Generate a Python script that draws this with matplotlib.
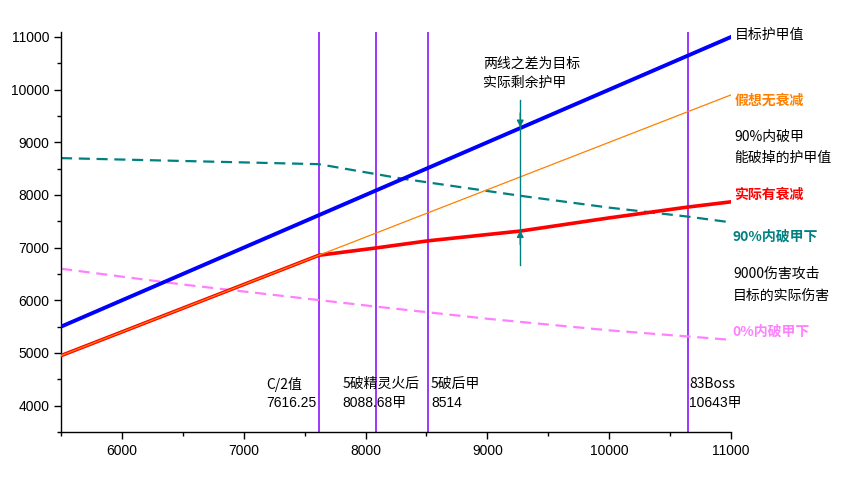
import matplotlib
matplotlib.use("Agg")
import matplotlib.pyplot as plt
from matplotlib.ticker import MultipleLocator

plt.rcParams['font.family'] = ['Liberation Sans', 'Noto Sans CJK SC', 'DejaVu Sans']

# ---- data ----
target_x = [5500, 11000]
target_y = [5500, 11000]

ideal_x = [5500, 11000]
ideal_y = [4950, 9900]

actual_x = [5500, 7616.25, 8088.68, 8514, 9270, 10000, 10643, 11000]
actual_y = [4950, 6855, 6995, 7130, 7315, 7565, 7770, 7870]

pen90_x = [5500, 7616.25, 8300, 9270, 10000, 10643, 11000]
pen90_y = [8700, 8585, 8310, 7985, 7760, 7590, 7480]

pen0_x = [5500, 6500, 7616.25, 8088.68, 9000, 10000, 11000]
pen0_y = [6600, 6300, 6005, 5880, 5650, 5430, 5250]

vlines = [7616.25, 8088.68, 8514, 10643]
vline_labels = [("C/2值", "7616.25"), ("5破精灵火后", "8088.68甲"),
                ("5破后甲", "8514"), ("83Boss", "10643甲")]
vlabel_x = [7185, 7808, 8538, 10656]

arrow_x = 9270
arrow_span = [6670, 9800]
arrow_tips = [9285, 7330]
arrow_tails = [9560, 7060]

# ---- figure ----
fig = plt.figure(figsize=(8.49, 4.82), dpi=100)
ax = fig.add_axes([61 / 849, 50 / 482, 670 / 849, 400.3 / 482])
ax.set_xlim(5500, 11000)
ax.set_ylim(3500, 11100)

for v in vlines:
    ax.axvline(v, color='#8000FF', lw=1.1, zorder=1)

ax.plot(target_x, target_y, color='#0000FF', lw=2.8, zorder=4)
ax.plot(actual_x, actual_y, color='#FF0000', lw=2.6, zorder=3)
ax.plot(ideal_x, ideal_y, color='#FF8000', lw=0.9, zorder=3.5)
ax.plot(pen90_x, pen90_y, color='#008080', lw=1.6, dashes=(5, 3), zorder=2)
ax.plot(pen0_x, pen0_y, color='#FF80FF', lw=1.6, dashes=(5, 3), zorder=2)

# arrow
ax.plot([arrow_x, arrow_x], arrow_span, color='#008080', lw=1.0, zorder=5)
for tip, tail in zip(arrow_tips, arrow_tails):
    ax.annotate('', xy=(arrow_x, tip), xytext=(arrow_x, tail),
                arrowprops=dict(arrowstyle='-|>', color='#008080', lw=1.0,
                                mutation_scale=10, shrinkA=0, shrinkB=0),
                zorder=6)

# axes styling
for s in ['top', 'right']:
    ax.spines[s].set_visible(False)
ax.spines['left'].set_linewidth(1.0)
ax.spines['bottom'].set_linewidth(1.0)
ax.xaxis.set_major_locator(MultipleLocator(1000))
ax.xaxis.set_minor_locator(MultipleLocator(500))
ax.yaxis.set_major_locator(MultipleLocator(1000))
ax.yaxis.set_minor_locator(MultipleLocator(500))
ax.tick_params(axis='both', which='major', length=5, width=1, labelsize=10, direction='out')
ax.tick_params(axis='both', which='minor', length=3, width=1, direction='out')
ax.set_yticks([4000, 5000, 6000, 7000, 8000, 9000, 10000, 11000])
ax.set_xticks([6000, 7000, 8000, 9000, 10000, 11000])

cjk = ['Noto Sans CJK SC', 'DejaVu Sans']
fs = 10

def txt(x, y, s, color='black', bold=False, ha='left', family=cjk):
    ax.text(x, y, s, color=color, fontsize=fs, family=family, ha=ha, va='center',
            fontweight='bold' if bold else 'normal', clip_on=False)

# right side labels
txt(11029, 11037, "目标护甲值")
txt(11029, 9784, "假想无衰减", color='#FF8000', bold=True)
txt(11029, 9100, "90%内破甲")
txt(11029, 8701, "能破掉的护甲值")
txt(11029, 7998, "实际有衰减", color='#FF0000', bold=True)
txt(11010, 7201, "90%内破甲下", color='#008080', bold=True)
txt(11018, 6498, "9000伤害攻击")
txt(11018, 6080, "目标的实际伤害")
txt(11010, 5415, "0%内破甲下", color='#FF80FF', bold=True)

# arrow explanation
txt(8966, 10487, "两线之差为目标")
txt(8966, 10126, "实际剩余护甲")

# vertical line labels
for xl, (l1, l2) in zip(vlabel_x, vline_labels):
    txt(xl, 4411, l1)
    txt(xl, 4050, l2, family=['Liberation Sans', 'Noto Sans CJK SC'])

fig.savefig("out.png", dpi=100)
